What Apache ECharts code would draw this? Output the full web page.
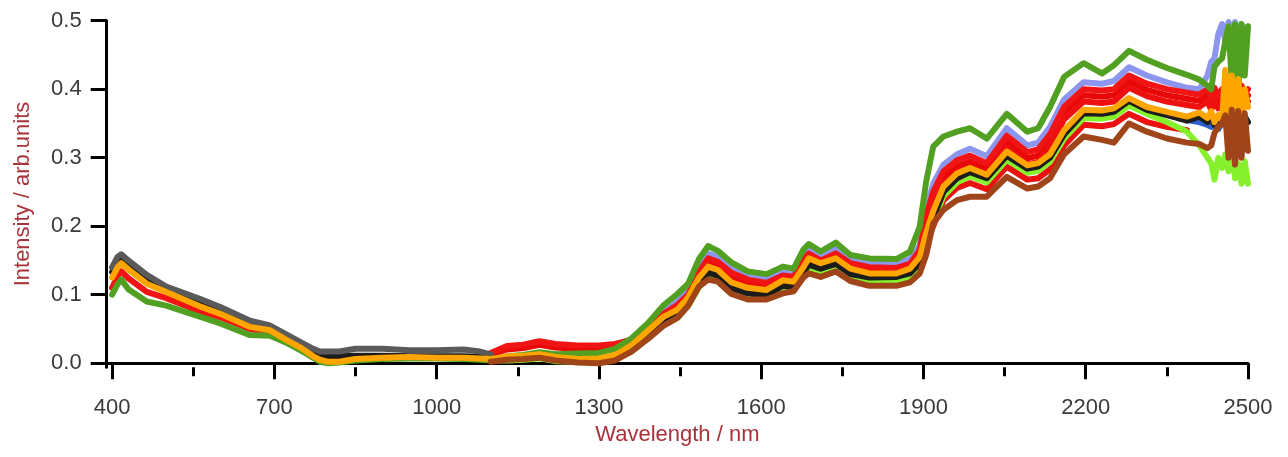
<!DOCTYPE html>
<html>
<head>
<meta charset="utf-8">
<script src="https://cdn.jsdelivr.net/npm/echarts@6/dist/echarts.min.js"></script>
<style>
html,body{margin:0;padding:0;background:#fff;}
#chart{width:1288px;height:457px;}
</style>
</head>
<body>
<div id="chart"></div>
<script>
const _ = null;
const wavelengths = [
  400, 410, 417, 430, 464, 500, 562, 600, 655, 692,
  722, 750, 772, 784, 800, 820, 850, 900, 950, 1000,
  1050, 1080, 1100, 1130, 1160, 1190, 1220, 1260, 1300, 1330,
  1360, 1390, 1420, 1445, 1465, 1485, 1502, 1520, 1545, 1575,
  1610, 1640, 1660, 1678, 1688, 1710, 1738, 1765, 1800, 1850,
  1875, 1893, 1905, 1918, 1937, 1962, 1986, 2017, 2054, 2092,
  2112, 2134, 2160, 2196, 2230, 2252, 2280, 2313, 2350, 2387,
  2410, 2425, 2432, 2438, 2445, 2452, 2458, 2464, 2470, 2476,
  2482, 2488, 2494, 2500
];
const xMajorTicks = [400, 700, 1000, 1300, 1600, 1900, 2200, 2500];
const xMinorTicks = [550, 850, 1150, 1450, 1750, 2050, 2350];
const yTicks = [0, 0.1, 0.2, 0.3, 0.4, 0.5];

const grayVals = [
  .140,.155,.159,.150,.129,.112,.094,.082,.062,.055,
  .042,.030,.021,.017,.017,.017,.021,.021,.019,.019,
  .020,.017,.013,_,_,_,_,_,_,_,
  _,_,_,_,_,_,_,_,_,_,
  _,_,_,_,_,_,_,_,_,_,
  _,_,_,_,_,_,_,_,_,_,
  _,_,_,_,_,_,_,_,_,_,
  _,_,_,_,_,_,_,_,_,_,
  _,_,_,_
];
const blackVals = [
  .133,.148,.152,.143,.122,.105,.087,.075,.055,.048,
  .035,.023,.014,.010,.010,.010,.011,.011,.010,.010,
  .010,.009,.008,.006,.007,.009,.005,.003,.003,.007,
  .020,.040,.060,.070,.088,.116,.132,.128,.110,.102,
  .099,.113,.111,.132,.144,.138,.145,.130,.125,.126,
  .131,.146,.178,.212,.250,.270,.279,.270,.303,.284,
  .287,.300,.334,.365,.364,.367,.383,.370,.362,.354,
  .360,.352,.360,.348,.356,.350,.360,.345,.362,.348,
  .358,.350,.360,.352
];
const orangeVals = [
  .125,.140,.146,.137,.116,.104,.083,.072,.053,.048,
  .034,.022,.010,.005,.002,.002,.006,.008,.009,.008,
  .008,.007,.006,.010,.011,.013,.009,.006,.007,.012,
  .026,.047,.068,.078,.096,.125,.141,.136,.118,.110,
  .107,.121,.119,.140,.153,.146,.153,.138,.131,.131,
  .138,.155,.190,.222,.258,.277,.285,.275,.309,.289,
  .292,.305,.340,.370,.369,.372,.387,.374,.367,.360,
  .366,.358,.368,.352,.362,.355,.428,.350,.420,.345,
  .415,.348,.400,.374
];
const redVals = [
  .110,.127,.134,.124,.104,.095,.076,.067,.050,.045,
  .032,.020,.008,.005,.004,.005,.007,.009,.008,.008,
  .008,.008,.015,.025,.027,.032,.028,.026,.026,.028,
  .034,.050,.072,.085,.100,.133,.153,.148,.132,.122,
  .117,.128,.126,.151,.160,.150,.160,.146,.140,.139,
  .145,.165,.215,.250,.280,.296,.303,.292,.332,.308,
  .312,.334,.374,.400,.398,.400,.420,.408,.400,.395,
  .392,.400,.388,.402,.390,.400,.392,.405,.395,.410,
  .398,.405,.395,.400
];
const greenVals = [
  .100,.115,.122,.108,.090,.084,.068,.058,.041,.040,
  .030,.018,.008,.002,.000,.001,.004,.006,.007,.007,
  .006,.005,.004,.010,.012,.016,.013,.014,.015,.021,
  .036,.058,.085,.101,.116,.152,.171,.164,.147,.134,
  .130,.141,.138,.166,.174,.163,.176,.158,.153,.152,
  .163,.199,.265,.316,.331,.338,.343,.328,.364,.338,
  .343,.374,.418,.438,.423,.435,.456,.443,.431,.421,
  .414,.405,.400,.433,.440,.445,.470,.492,.410,.495,
  .390,.495,.420,.492
];
const lavenderVals = [
  _,_,_,_,_,_,_,_,_,_,
  _,_,_,_,_,_,_,_,_,_,
  _,_,.012,.022,.025,.030,.026,.024,.024,.026,
  .035,.052,.075,.090,.106,.140,.160,.155,.139,.127,
  .122,.133,.130,.158,.166,.156,.168,.152,.146,.145,
  .152,.172,.225,.262,.290,.305,.313,.302,.343,.318,
  .322,.345,.385,.410,.408,.412,.432,.420,.410,.402,
  .400,.420,.440,.445,.480,.495,.470,.498,.480,.498,
  .470,.495,.480,.490
];
const red2Vals = [
  _,_,_,_,_,_,_,_,_,_,
  _,_,_,_,_,_,_,_,_,_,
  _,_,.013,.020,.022,.027,.023,.021,.021,.023,
  .030,.049,.070,.081,.098,.130,.147,.142,.126,.116,
  .112,.124,.122,.146,.156,.148,.155,.141,.136,.136,
  .142,.160,.206,.241,.271,.287,.294,.283,.323,.299,
  .303,.325,.365,.391,.389,.391,.411,.399,.391,.386,
  .383,.391,.379,.393,.381,.391,.383,.396,.386,.401,
  .389,.396,.386,.391
];
const red4Vals = [
  _,_,_,_,_,_,_,_,_,_,
  _,_,_,_,_,_,_,_,_,_,
  _,_,_,_,_,_,_,_,_,_,
  _,_,_,_,_,_,_,_,_,_,
  _,_,_,_,_,_,_,_,_,_,
  _,.158,.197,.232,.262,.278,.285,.274,.314,.290,
  .294,.316,.356,.382,.380,.382,.402,.390,.382,.377,
  .374,.382,.370,.384,.372,.382,.374,.387,.377,.392,
  .380,.387,.377,.382
];
const red3Vals = [
  _,_,_,_,_,_,_,_,_,_,
  _,_,_,_,_,_,_,_,_,_,
  _,_,.006,.008,.009,.011,.007,.004,.005,.010,
  .023,.043,.064,.074,.092,.120,.136,.131,.114,.106,
  .103,.117,.115,.136,.148,.142,.149,.134,.128,.128,
  .134,.148,.175,.200,.238,.256,.263,.254,.287,.268,
  .270,.283,.318,.348,.346,.349,.364,.352,.345,.340,
  _,_,_,_,_,_,_,_,_,_,
  _,_,_,_
];
const lightGreenVals = [
  _,_,_,_,_,_,_,_,_,_,
  _,_,_,_,_,_,_,_,_,_,
  _,_,.004,.004,.005,.007,.003,.002,.002,.005,
  .017,.036,.056,.066,.084,.111,.127,.123,.105,.097,
  .094,.108,.106,.127,.139,.133,.140,.125,.120,.121,
  .125,.140,.170,.206,.244,.264,.273,.264,.297,.278,
  .281,.294,.328,.358,.357,.360,.376,.364,.352,.338,
  .318,.300,.292,.268,.300,.285,.305,.280,.322,.270,
  .292,.262,.295,.262
];
const brownVals = [
  _,_,_,_,_,_,_,_,_,_,
  _,_,_,_,_,_,_,_,_,_,
  _,_,.002,.005,.006,.008,.004,.001,.000,.004,
  .017,.035,.055,.066,.084,.112,.122,.119,.101,.093,
  .093,.102,.105,.125,.131,.126,.134,.120,.113,.113,
  .118,.131,.158,.204,.224,.238,.243,.243,.272,.255,
  .258,.270,.305,.331,.326,.322,.350,.338,.328,.322,
  .320,.314,.318,.336,.345,.350,.362,.300,.370,.290,
  .368,.300,.365,.310
];
const blueVals = [
  _,_,_,_,_,_,_,_,_,_,
  _,_,_,_,_,_,_,_,_,_,
  _,_,_,_,_,_,_,_,_,_,
  _,_,_,_,_,_,_,_,_,_,
  _,_,_,_,_,_,_,_,_,_,
  _,_,_,_,_,_,_,_,_,_,
  _,_,_,_,_,_,_,_,_,.355,
  .352,.348,.345,.350,.342,.350,_,_,_,_,
  _,_,_,_
];

function pairs(vals) {
  const out = [];
  for (let i = 0; i < wavelengths.length; i++) {
    if (vals[i] !== null && vals[i] !== undefined) out.push([wavelengths[i], vals[i]]);
  }
  return out;
}
function line(name, vals, color, width) {
  return {
    name: name, type: 'line', data: pairs(vals), showSymbol: false, symbol: 'none',
    lineStyle: { color: color, width: width || 6, join: 'round', cap: 'round' },
    itemStyle: { color: color }, silent: true, animation: false, clip: true
  };
}

const chart = echarts.init(document.getElementById('chart'), null, { renderer: 'canvas' });
const FONT = 'Liberation Sans, Arial, sans-serif';
const labelFont = { fontFamily: FONT, fontSize: 22, color: '#3a3a3a' };
chart.setOption({
  animation: false,
  backgroundColor: '#ffffff',
  grid: { left: 106.7, right: 40, top: 20.7, bottom: 89.7, containLabel: false },
  xAxis: [
    {
      type: 'value', min: 390, max: 2500,
      name: 'Wavelength / nm', nameLocation: 'middle', nameGap: 55,
      nameTextStyle: { fontFamily: FONT, fontSize: 22, color: '#a8323a' },
      axisLine: { show: true, lineStyle: { color: '#000', width: 3 } },
      axisTick: { show: true, customValues: xMajorTicks, length: 16, inside: false, lineStyle: { color: '#000', width: 3 } },
      axisLabel: Object.assign({ customValues: xMajorTicks, margin: 30, formatter: v => String(v) }, labelFont),
      splitLine: { show: false }
    },
    {
      type: 'value', min: 390, max: 2500, position: 'bottom', gridIndex: 0,
      axisLine: { show: false },
      axisTick: { show: true, customValues: xMinorTicks, length: 9, lineStyle: { color: '#000', width: 3 } },
      axisLabel: { show: false },
      splitLine: { show: false }
    }
  ],
  yAxis: {
    type: 'value', min: -0.006, max: 0.5,
    name: 'Intensity / arb.units', nameLocation: 'middle', nameGap: 73, nameRotate: 90,
    nameTextStyle: { fontFamily: FONT, fontSize: 22, color: '#a8323a' },
    axisLine: { show: true, lineStyle: { color: '#000', width: 3 } },
    axisTick: { show: true, customValues: yTicks, length: 16, lineStyle: { color: '#000', width: 3 } },
    axisLabel: Object.assign({ customValues: yTicks, margin: 25, formatter: v => v.toFixed(1) }, labelFont),
    splitLine: { show: false }
  },
  series: [
    line('lavender', lavenderVals, '#8d96ee'),
    line('red2', red2Vals, '#e80808'),
    line('red4', red4Vals, '#ee1010'),
    line('red1', redVals, '#f01414'),
    line('red3', red3Vals, '#ec1010'),
    line('lightgreen', lightGreenVals, '#86f02c'),
    line('blue', blueVals, '#2f62d0'),
    line('black', blackVals, '#1c1c1c'),
    line('gray', grayVals, '#5a5a5a'),
    line('green', greenVals, '#52a021'),
    line('orange', orangeVals, '#ffa500'),
    line('brown', brownVals, '#a0441a')
  ]
});
</script>
</body>
</html>
